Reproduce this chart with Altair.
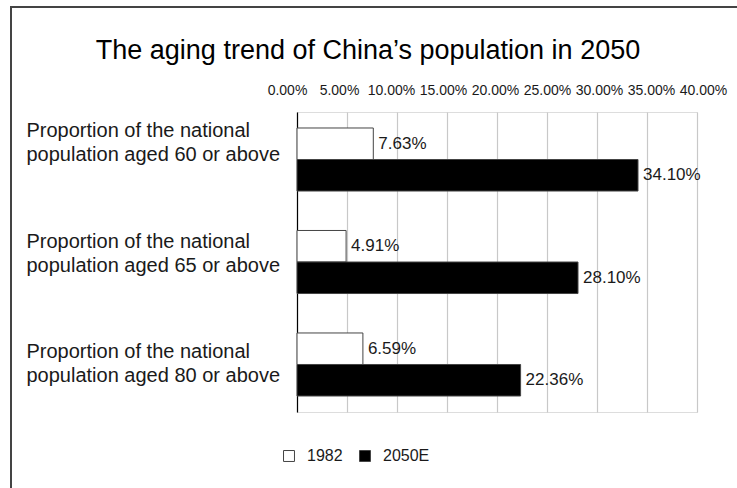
import altair as alt
import pandas as pd

categories = [
    "Proportion of the national|population aged 60 or above",
    "Proportion of the national|population aged 65 or above",
    "Proportion of the national|population aged 80 or above",
]
series = ["1982", "2050E"]
values_1982 = [0.0763, 0.0491, 0.0659]
values_2050 = [0.3410, 0.2810, 0.2236]
x_ticks = [0, 0.05, 0.10, 0.15, 0.20, 0.25, 0.30, 0.35, 0.40]
title_text = "The aging trend of China\u2019s population in 2050"

rows = []
for c, a, b in zip(categories, values_1982, values_2050):
    rows.append({"category": c, "series": "1982", "value": a})
    rows.append({"category": c, "series": "2050E", "value": b})
df = pd.DataFrame(rows)

FONT = "Liberation Sans"

y_label_offset = {
    "condition": [
        {"test": "indexof(datum.value, '60 or') >= 0", "value": -29},
        {"test": "indexof(datum.value, '65 or') >= 0", "value": -20},
    ],
    "value": -12,
}

x_label_offset = {
    "condition": [
        {"test": f"abs(datum.value - {v}) < 0.001", "value": -10 + 2 * i}
        for i, v in enumerate(x_ticks)
    ],
    "value": 0,
}

base = alt.Chart(df).encode(
    y=alt.Y("category:N", sort=categories, title=None,
            scale=alt.Scale(paddingInner=0.385, paddingOuter=0.156),
            axis=alt.Axis(labelExpr="split(datum.label, '|')", labelAlign="left",
                          labelPadding=271, labelFontSize=20, labelLineHeight=24,
                          labelColor="#1a1a1a", labelFont=FONT, ticks=False,
                          domainColor="#000", domainWidth=1.2,
                          labelOffset=y_label_offset, labelLimit=300)),
    yOffset=alt.YOffset("series:N", sort=series),
)

bars = base.mark_bar(strokeWidth=1).encode(
    x=alt.X("value:Q", title=None,
            scale=alt.Scale(domain=[0, 0.40]),
            axis=alt.Axis(orient="top", values=x_ticks, format=".2%", domain=False,
                          ticks=False, labelPadding=15, labelFontSize=14,
                          labelColor="#1a1a1a", labelFont=FONT, labelOverlap=False,
                          labelOffset=x_label_offset,
                          gridColor="#c8c8c8", gridWidth=1.2, labelFlush=False)),
    color=alt.Color("series:N", sort=series,
                    scale=alt.Scale(domain=series, range=["#ffffff", "#000000"]),
                    legend=alt.Legend(title=None, orient="none", direction="horizontal",
                                      legendX=-16, legendY=336, symbolType="square",
                                      symbolSize=120, symbolStrokeColor="#444",
                                      symbolStrokeWidth=1, labelFontSize=16,
                                      labelFont=FONT, labelColor="#1a1a1a",
                                      columnPadding=14, labelOffset=10)),
    stroke=alt.value("#444"),
)

labels = base.mark_text(align="left", baseline="middle", dx=5, fontSize=17,
                        font=FONT, color="#1a1a1a").encode(
    x="value:Q",
    text=alt.Text("value:Q", format=".2%"),
)

title = alt.Chart(pd.DataFrame({"t": [title_text]})).mark_text(
    align="center", baseline="middle", fontSize=27, font=FONT, color="#000"
).encode(
    text="t:N", x=alt.value(71), y=alt.value(-61),
)

frame = alt.Chart(pd.DataFrame({"a": [0]})).mark_rect(
    fill=None, stroke="#444", strokeWidth=2
).encode(
    x=alt.value(-286), x2=alt.value(470),
    y=alt.value(-105), y2=alt.value(400),
)

chart = alt.layer(bars, labels, title, frame).properties(
    width=400, height=300,
    autosize=alt.AutoSizeParams(type="none"),
    padding={"left": 297, "top": 112, "right": 40, "bottom": 76},
).configure_view(stroke=None).configure(background="white")

chart.save("out.html", embed_options={"renderer": "svg", "actions": False})
